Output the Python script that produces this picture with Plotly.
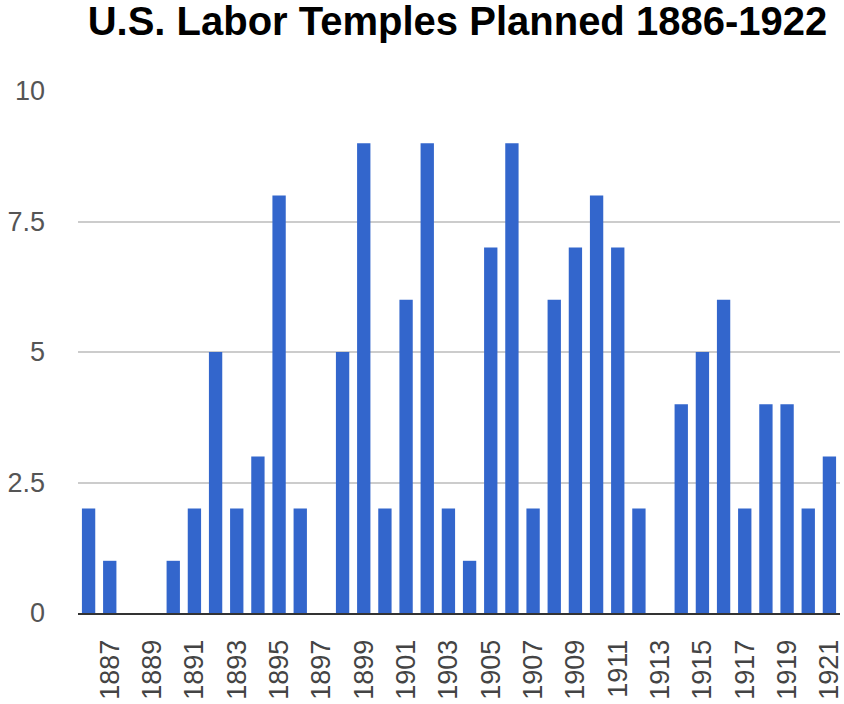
import plotly.graph_objects as go

years = list(range(1886, 1922))
counts = [2, 1, 0, 0, 1, 2, 5, 2, 3, 8, 2, 0, 5, 9, 2, 6, 9, 2, 1, 7, 9, 2, 6, 7, 8, 7, 2, 0, 4, 5, 6, 2, 4, 4, 2, 3]
tick_years = list(range(1887, 1922, 2))
y_ticks = [0, 2.5, 5, 7.5, 10]
y_labels = ["0", "2.5", "5", "7.5", "10"]

fig = go.Figure(go.Bar(x=years, y=counts, marker_color="#3366cc", marker_line_width=0))

fig.update_layout(
    width=844, height=704,
    margin=dict(l=78, r=0, t=91, b=91),
    paper_bgcolor="white", plot_bgcolor="white",
    bargap=0.37,
    showlegend=False,
    title=dict(text="<b>U.S. Labor Temples Planned 1886-1922</b>", x=0.542, xanchor="center",
               y=0.97, yanchor="middle",
               font=dict(family="Liberation Sans", size=40, color="#000000")),
    font=dict(family="Liberation Sans", color="#444444"),
)
fig.update_xaxes(
    range=[1885.5, 1921.5], tickmode="array", tickvals=tick_years,
    ticktext=[str(y) for y in tick_years], tickangle=-90,
    tickfont=dict(size=27, color="#444444"), showgrid=False,
    showline=True, linecolor="#333333", linewidth=2, ticks="", zeroline=False,
    ticklabelstandoff=14, ticklabeloverflow="allow",
)
fig.update_yaxes(
    range=[0, 10], tickmode="array", tickvals=y_ticks, ticktext=y_labels,
    tickfont=dict(size=27, color="#555555"), showgrid=True, gridcolor="#cccccc",
    gridwidth=2, zeroline=False, ticklabelstandoff=32,
)

fig.write_html("out.html", config={"displayModeBar": False},
               post_script="document.body.style.margin='0';document.body.style.overflow='hidden';")
